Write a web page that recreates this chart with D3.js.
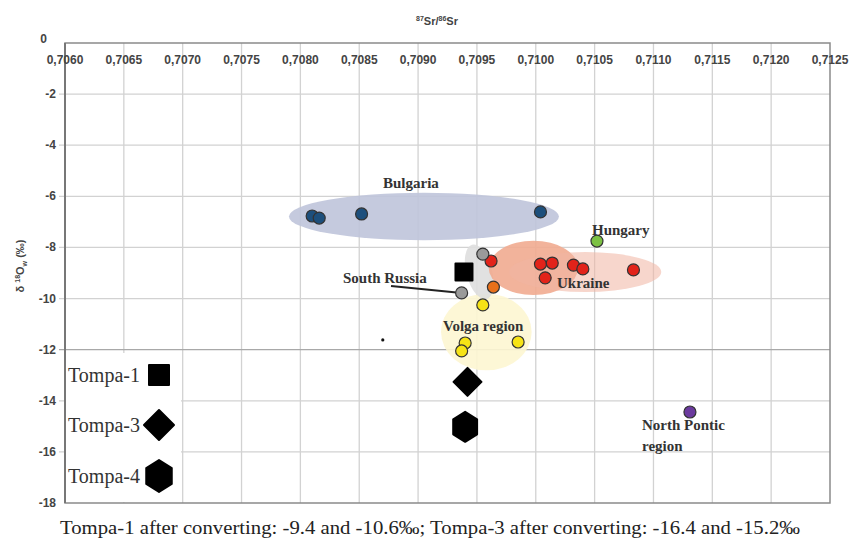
<!DOCTYPE html>
<html lang="en">
  <head>
    <meta charset="UTF-8" />
    <title>Sr / O isotopes</title>
    <script src="https://d3js.org/d3.v7.min.js"></script>
    <style>
      body { margin: 0; background: #fff; }
      .tick { font-family: Arial, "Liberation Sans", sans-serif; font-weight: bold; font-size: 12px; fill: #444; }
      .region { font-family: "Liberation Serif", "Times New Roman", serif; font-weight: bold; font-size: 15px; fill: #333; }
      .legend { font-family: "Liberation Serif", "Times New Roman", serif; font-size: 20px; fill: #333; }
    </style>
  </head>
  <body>
    <div id="viz"></div>
    <script>
      // axes
      const xTicks = [0.7060, 0.7065, 0.7070, 0.7075, 0.7080, 0.7085, 0.7090, 0.7095, 0.7100, 0.7105, 0.7110, 0.7115, 0.7120, 0.7125];
      const yTicks = [0, -2, -4, -6, -8, -10, -12, -14, -16, -18];

      // measured points [87Sr/86Sr, d18O]
      const bulgaria = [[0.70810, -6.77], [0.70816, -6.85], [0.70852, -6.69], [0.71004, -6.61]];
      const hungary = [[0.71052, -7.75]];
      const ukraine = [[0.70962, -8.53], [0.71004, -8.65], [0.71014, -8.61], [0.71032, -8.69], [0.71040, -8.84], [0.71008, -9.19], [0.71083, -8.88]];
      const orange = [[0.70964, -9.55]];
      const southRussia = [[0.70955, -8.26], [0.70937, -9.78]];
      const volga = [[0.70955, -10.25], [0.70940, -11.74], [0.70937, -12.05], [0.70985, -11.70]];
      const northPontic = [[0.71131, -14.44]];
      const stray = [[0.70870, -11.62]];

      // Tompa samples
      const tompa1 = [0.70939, -8.96];
      const tompa3 = [0.70942, -13.26];
      const tompa4 = [0.70940, -15.02];

      // shaded regions: centre sr, centre d18O, half-width (sr), half-height (per mil), rotation
      const regions = [
        { name: "bulgaria", c: [0.70905, -6.79], r: [0.001147, 0.93], rot: 0, fill: "#bfc4da" },
        { name: "volga", c: [0.70958, -11.31], r: [0.000385, 1.5], rot: 0, fill: "#fdf6d2" },
        { name: "russia", c: [0.70952, -8.96], r: [0.00011, 1.1], rot: -15, fill: "#dedede" },
        { name: "ukraine1", c: [0.70998, -8.80], r: [0.00038, 1.06], rot: 0, fill: "#f1ab90" },
        { name: "ukraine2", c: [0.71042, -8.96], r: [0.000646, 0.78], rot: 0, fill: "#f1b5a3", op: 0.55 }
      ];

      const W = 853, H = 543;
      const svg = d3.select("#viz").append("svg").attr("width", W).attr("height", H);

      const x = d3.scaleLinear().domain([0.7060, 0.7125]).range([65, 830]);
      const y = d3.scaleLinear().domain([0, -18]).range([43, 503]);

      // grid
      svg.append("g").selectAll("line").data(xTicks.slice(1, -1)).join("line")
        .attr("x1", d => x(d)).attr("x2", d => x(d))
        .attr("y1", y(0)).attr("y2", y(-18))
        .attr("stroke", "#d2d2d2").attr("stroke-width", 1.3);
      svg.append("g").selectAll("line").data(yTicks.slice(1, -1)).join("line")
        .attr("x1", x(0.7060) - 6).attr("x2", x(0.7125))
        .attr("y1", d => y(d)).attr("y2", d => y(d))
        .attr("stroke", d => d === -12 ? "#a8a8a8" : "#d2d2d2").attr("stroke-width", 1.3);

      // frame
      svg.append("rect")
        .attr("x", x(0.7060)).attr("y", y(0))
        .attr("width", x(0.7125) - x(0.7060)).attr("height", y(-18) - y(0))
        .attr("fill", "none").attr("stroke", "#8a8a8a").attr("stroke-width", 1.5);
      svg.append("line")
        .attr("x1", x(0.7060)).attr("x2", x(0.7060)).attr("y1", y(0)).attr("y2", y(-18))
        .attr("stroke", "#777").attr("stroke-width", 2);

      // tick labels
      svg.append("g").selectAll("text").data(xTicks).join("text")
        .attr("class", "tick")
        .attr("x", d => x(d)).attr("y", y(0) + 21)
        .attr("text-anchor", "middle")
        .text(d => d3.format(".4f")(d).replace(".", ","));
      svg.append("g").selectAll("text").data(yTicks).join("text")
        .attr("class", "tick")
        .attr("x", d => d === 0 ? 47 : 56)
        .attr("y", d => y(d) + (d === 0 ? 0 : 4))
        .attr("text-anchor", "end")
        .text(d => d);

      // axis titles
      const t = svg.append("text").attr("class", "tick").attr("x", 437).attr("y", 25)
        .attr("text-anchor", "middle").style("font-size", "11px");
      t.append("tspan").attr("dy", -4).style("font-size", "7px").text("87");
      t.append("tspan").attr("dy", 4).text("Sr/");
      t.append("tspan").attr("dy", -4).style("font-size", "7px").text("86");
      t.append("tspan").attr("dy", 4).text("Sr");

      const yl = svg.append("text").attr("class", "tick")
        .attr("transform", "translate(24,266) rotate(-90)")
        .attr("text-anchor", "middle").style("font-size", "11px");
      yl.append("tspan").text("δ ");
      yl.append("tspan").attr("dy", -4).style("font-size", "7px").text("18");
      yl.append("tspan").attr("dy", 4).text("O");
      yl.append("tspan").attr("dy", 3).style("font-size", "7px").text("w");
      yl.append("tspan").attr("dy", -3).text(" (‰)");

      // shaded regions
      svg.append("g").selectAll("ellipse").data(regions).join("ellipse")
        .attr("cx", 0).attr("cy", 0)
        .attr("rx", d => x(d.c[0] + d.r[0]) - x(d.c[0]))
        .attr("ry", d => y(d.c[1] - d.r[1]) - y(d.c[1]))
        .attr("transform", d => `translate(${x(d.c[0])},${y(d.c[1])}) rotate(${d.rot})`)
        .attr("fill", d => d.fill)
        .attr("opacity", d => d.op || 0.9);

      // legend box
      svg.append("rect").attr("x", 66).attr("y", 353).attr("width", 115).attr("height", 149).attr("fill", "#fff");

      // South Russia pointer
      svg.append("line")
        .attr("x1", 391).attr("y1", 286)
        .attr("x2", x(southRussia[1][0])).attr("y2", y(southRussia[1][1]))
        .attr("stroke", "#222").attr("stroke-width", 2);

      // points
      const groups = [
        [bulgaria, "#1d4f7c"], [hungary, "#7cc143"], [ukraine, "#e2231a"], [orange, "#e8701a"],
        [southRussia, "#9a9a9a"], [volga, "#f6e316"], [northPontic, "#6b3a9e"]
      ];
      groups.forEach(([pts, col]) => {
        svg.append("g").selectAll("circle").data(pts).join("circle")
          .attr("cx", d => x(d[0])).attr("cy", d => y(d[1])).attr("r", 6)
          .attr("fill", col).attr("stroke", "#333").attr("stroke-width", 1.2);
      });
      svg.append("g").selectAll("circle").data(stray).join("circle")
        .attr("cx", d => x(d[0])).attr("cy", d => y(d[1])).attr("r", 1.6).attr("fill", "#111");

      // marker shapes
      const square = s => `M${-s},${-s}H${s}V${s}H${-s}Z`;
      const diamond = s => `M0,${-s}L${s},0L0,${s}L${-s},0Z`;
      const hexagon = s => d3.range(6).map(i => {
        const a = Math.PI / 3 * i;
        return (i ? "L" : "M") + (s * 0.92 * Math.sin(a)).toFixed(2) + "," + (-s * Math.cos(a)).toFixed(2);
      }).join("") + "Z";

      const marker = (px, py, path) => svg.append("path")
        .attr("d", path).attr("transform", `translate(${px},${py})`)
        .attr("fill", "#000").attr("stroke", "#000").attr("stroke-width", 2).attr("stroke-linejoin", "round");

      marker(x(tompa1[0]), y(tompa1[1]), square(8.5));
      marker(x(tompa3[0]), y(tompa3[1]), diamond(14));
      marker(x(tompa4[0]), y(tompa4[1]), hexagon(15));

      // legend
      const legend = [["Tompa-1", square(10), 375], ["Tompa-3", diamond(15), 425], ["Tompa-4", hexagon(16), 476]];
      legend.forEach(([lbl, path, ly]) => {
        svg.append("text").attr("class", "legend").attr("x", 68).attr("y", ly + 7).text(lbl);
        marker(159, ly, path);
      });

      // region labels
      const labels = [
        ["Bulgaria", 383, 188], ["Hungary", 592, 235], ["South Russia", 343, 283],
        ["Ukraine", 557, 288], ["Volga region", 443, 331], ["North Pontic", 642, 430], ["region", 642, 451]
      ];
      svg.append("g").selectAll("text").data(labels).join("text")
        .attr("class", "region").attr("x", d => d[1]).attr("y", d => d[2]).text(d => d[0]);

      // caption
      svg.append("text").attr("class", "legend")
        .attr("x", 60).attr("y", 534).style("font-size", "19px").style("fill", "#222")
        .attr("textLength", 740).attr("lengthAdjust", "spacingAndGlyphs")
        .text("Tompa-1 after converting: -9.4 and -10.6‰; Tompa-3 after converting: -16.4 and -15.2‰");
    </script>
  </body>
</html>
